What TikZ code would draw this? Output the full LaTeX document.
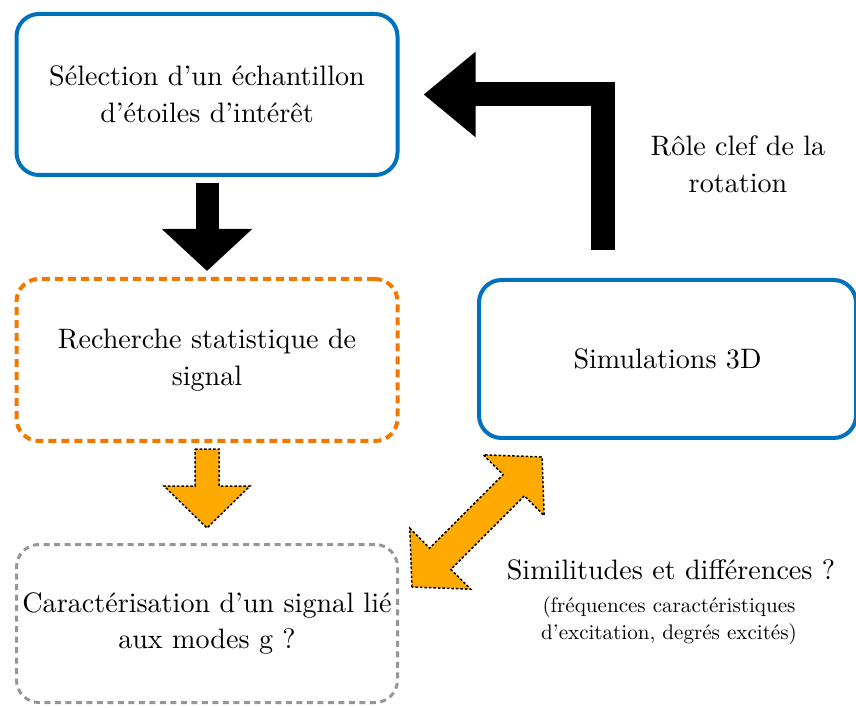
\documentclass[tikz,border=0pt]{standalone}
\usepackage{fontspec}
\setmainfont{lmroman10-regular}[Extension=.otf,BoldFont=lmroman10-bold,
  ItalicFont=lmroman10-italic]
\usepackage{tikz}
\usepackage{xcolor}
\usetikzlibrary{arrows.meta,calc}
\definecolor{c1}{RGB}{0,114,189}
\definecolor{c2}{RGB}{242,120,0}
\definecolor{c3}{RGB}{255,170,0}
\definecolor{c4}{RGB}{150,150,150}

\begin{document}
\begin{tikzpicture}[
    box/.style={rounded corners=0.45cm,line width=0.08cm,outer sep=0pt,
                minimum width=7.62cm,minimum height=3.22cm,
                font=\fontsize{16}{21}\selectfont,align=center},
    bigarr/.style={line width=0.46cm,black,line join=miter},
    fatarr/.style={fill=c3,draw=black,line width=0.03cm,
                   dash pattern=on 0.05cm off 0.04cm},
    lab/.style={font=\fontsize{16}{21}\selectfont,align=center},
    small/.style={font=\fontsize{12}{15.5}\selectfont,align=center}]
    \useasboundingbox (0,0) rectangle (17.12,14.14);
    \node[box,draw=c1] (sel) at (4.14,12.25)
      {S\'election d'un \'echantillon\\d'\'etoiles d'int\'er\^et};
    \node[box,draw=c2,dash pattern=on 0.16cm off 0.1cm,minimum height=3.24cm]
      (rech) at (4.14,6.94) {Recherche statistique de\\signal};
    \node[box,draw=c4,line width=0.06cm,dash pattern=on 0.12cm off 0.09cm,
      minimum height=3.16cm] (car) at (4.14,1.67)
      {Caract\'erisation d'un signal li\'e\\aux modes g ?};
    \node[box,draw=c1,minimum width=7.54cm,minimum height=3.16cm]
      (sim) at (13.35,6.96) {Simulations 3D};
    \draw[bigarr,-{Triangle[length=0.84cm,width=1.76cm]},
      shorten <=0.16cm,shorten >=0.16cm] (sel.south) -- (rech.north);
    \coordinate (rot) at (12.05,9.14);
    \draw[bigarr,line width=0.48cm,-{Triangle[length=1.04cm,width=1.64cm]},
      shorten >=0.52cm] (rot) |- (sel.east);
    \node[lab] (rol) at (14.76,10.86) {R\^ole clef de la\\rotation};
    \draw[fatarr] ([xshift=-0.24cm,yshift=-0.16cm]rech.south) -- ++(0.48,0)
      -- ++(0,-0.74) -- ++(0.62,0) -- ++(-0.86,-0.84) -- ++(-0.86,0.84)
      -- ++(0.62,0) -- cycle;
    \coordinate (gap) at (9.54,3.70);
    \begin{scope}[shift={(gap)},rotate=45]
      \draw[fatarr] (-1.84,0) -- (-1.04,0.86) -- (-1.04,0.30) -- (1.04,0.30)
        -- (1.04,0.86) -- (1.84,0) -- (1.04,-0.86) -- (1.04,-0.30)
        -- (-1.04,-0.30) -- (-1.04,-0.86) -- cycle;
    \end{scope}
    \node[lab] (simi) at (13.42,2.74) {Similitudes et diff\'erences ?};
    \node[small] (freq) at (13.38,1.72)
      {(fr\'equences caract\'eristiques\\d'excitation, degr\'es excit\'es)};
  \end{tikzpicture}
\end{document}
